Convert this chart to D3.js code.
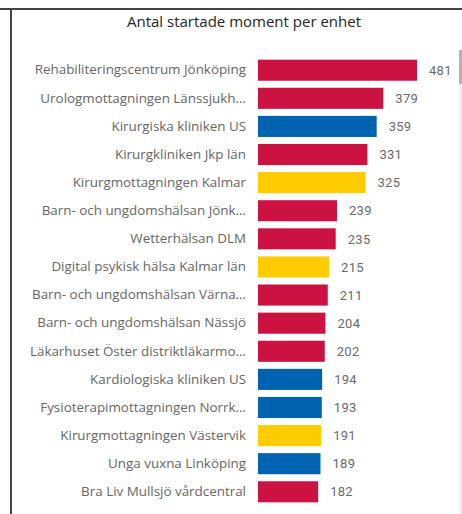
<!DOCTYPE html>
<html>
<head>
<meta charset="utf-8">
<script src="https://cdn.jsdelivr.net/npm/d3@7"></script>
<style>
  html, body { margin: 0; padding: 0; background: #fff; }
  svg { display: block; }
</style>
</head>
<body>
<svg id="chart" width="462" height="514"></svg>
<script>
const title = "Antal startade moment per enhet";
const categories = [
  "Rehabiliteringscentrum Jönköping",
  "Urologmottagningen Länssjukh…",
  "Kirurgiska kliniken US",
  "Kirurgkliniken Jkp län",
  "Kirurgmottagningen Kalmar",
  "Barn- och ungdomshälsan Jönk…",
  "Wetterhälsan DLM",
  "Digital psykisk hälsa Kalmar län",
  "Barn- och ungdomshälsan Värna…",
  "Barn- och ungdomshälsan Nässjö",
  "Läkarhuset Öster distriktläkarmo…",
  "Kardiologiska kliniken US",
  "Fysioterapimottagningen Norrk…",
  "Kirurgmottagningen Västervik",
  "Unga vuxna Linköping",
  "Bra Liv Mullsjö vårdcentral"
];
const values = [481, 379, 359, 331, 325, 239, 235, 215, 211, 204, 202, 194, 193, 191, 189, 182];
const regions = ["Jönköping", "Jönköping", "Östergötland", "Jönköping", "Kalmar", "Jönköping", "Jönköping", "Kalmar",
                 "Jönköping", "Jönköping", "Jönköping", "Östergötland", "Östergötland", "Kalmar", "Östergötland", "Jönköping"];
const regionNames = ["Jönköping", "Östergötland", "Kalmar"];
const regionColors = ["#CC1241", "#0063B1", "#FFCC00"];

const svg = d3.select("#chart");

// frame
svg.append("line").attr("x1", 0).attr("x2", 462).attr("y1", 9).attr("y2", 9)
  .attr("stroke", "#444").attr("stroke-width", 2);
svg.append("line").attr("x1", 11).attr("x2", 11).attr("y1", 8).attr("y2", 514)
  .attr("stroke", "#444").attr("stroke-width", 2);
// scrollbar
svg.append("rect").attr("x", 459).attr("y", 50).attr("width", 3).attr("height", 464).attr("fill", "#f1f1f1");
svg.append("rect").attr("x", 459).attr("y", 50).attr("width", 3).attr("height", 34).attr("fill", "#b4b4b4");

svg.append("text").attr("x", 244).attr("y", 27).attr("text-anchor", "middle")
  .attr("font-family", "'Segoe UI', 'Open Sans', sans-serif").attr("font-size", 15)
  .attr("fill", "#252423").text(title);

const x = d3.scaleLinear().domain([0, 481]).range([258, 417]);
const y = d3.scaleBand().domain(categories).range([56, 506]).paddingInner(0.25).paddingOuter(0.13);
const color = d3.scaleOrdinal().domain(regionNames).range(regionColors);

const data = categories.map((c, i) => ({ c, v: values[i], r: regions[i] }));

svg.append("g").selectAll("rect").data(data).join("rect")
  .attr("x", x(0)).attr("y", d => y(d.c))
  .attr("width", d => x(d.v) - x(0)).attr("height", y.bandwidth())
  .attr("fill", d => color(d.r));

const yAxis = d3.axisLeft(y).tickSize(0).tickPadding(0);
const ga = svg.append("g").attr("transform", "translate(246,0)").call(yAxis);
ga.select(".domain").remove();
ga.selectAll("text").attr("font-family", "'Segoe UI', 'Open Sans', sans-serif")
  .attr("font-size", 13.4).attr("fill", "#666");

svg.append("g").selectAll("text").data(data).join("text")
  .attr("x", d => x(d.v) + 12).attr("y", d => y(d.c) + y.bandwidth() / 2)
  .attr("dy", "0.36em")
  .attr("font-family", "Roboto, sans-serif")
  .attr("font-size", 13).attr("letter-spacing", 0.3).attr("fill", "#6a6a6a")
  .text(d => d.v);
</script>
</body>
</html>
